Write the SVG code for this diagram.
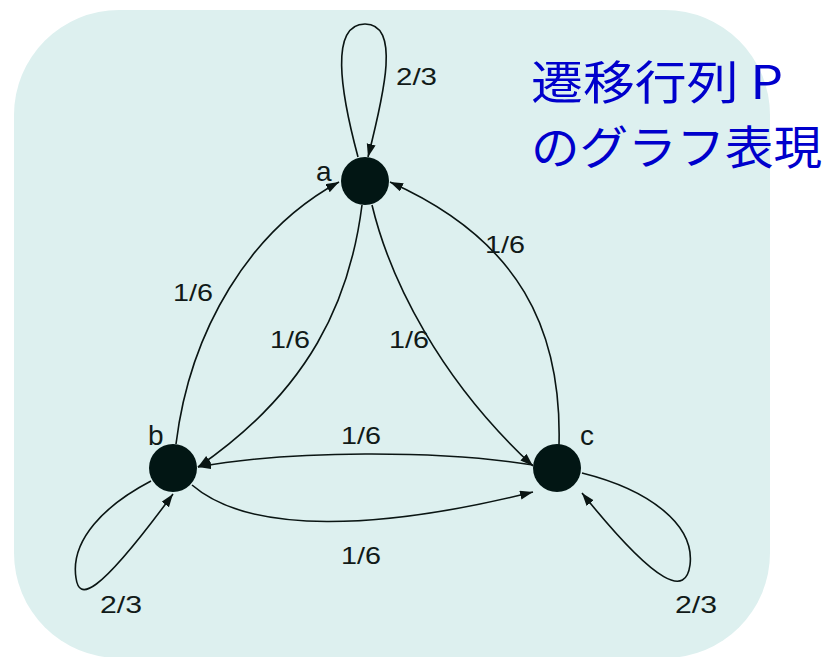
<svg xmlns="http://www.w3.org/2000/svg" width="825" height="657" viewBox="0 0 825 657">
<style>
.edge{fill:none;stroke:#0a1513;stroke-width:1.6}
.node{fill:#021614}
.lbl{font-family:"Liberation Sans",Arial,sans-serif;font-size:24px;fill:#111a18}
.nlbl{font-family:"Liberation Sans",Arial,sans-serif;font-size:28px;fill:#111a18}
.title{font-family:"Noto Sans CJK JP","Liberation Sans",sans-serif;font-size:46px;fill:#0000cc}
</style>
<defs>
<marker id="arr" markerUnits="userSpaceOnUse" markerWidth="14" markerHeight="10" refX="13" refY="4.5" orient="auto">
<path d="M0,0 L13,4.5 L0,9 z" fill="#0a1513"/>
</marker>
</defs>
<rect x="14" y="10" width="756" height="648" rx="105" ry="105" fill="#ddf0ef"/>
<g id="title">
<text class="title" x="531" y="99" textLength="252" lengthAdjust="spacingAndGlyphs">遷移行列 P</text>
<text class="title" x="531" y="164" textLength="291" lengthAdjust="spacingAndGlyphs">のグラフ表現</text>
</g>
<g id="connectors">
<path class="edge" marker-end="url(#arr)" d="M358,157 C340,90 330,24 365,24 C400,24 385,90 368,157"/>
<path class="edge" marker-end="url(#arr)" d="M176,444 C190,330 250,230 339,182"/>
<path class="edge" marker-end="url(#arr)" d="M362,205 C350,300 310,390 198,467"/>
<path class="edge" marker-end="url(#arr)" d="M372,205 C390,280 440,380 533,466"/>
<path class="edge" marker-end="url(#arr)" d="M559,445 C562,330 520,240 390,182"/>
<path class="edge" marker-end="url(#arr)" d="M533,465 C440,450 290,450 198,467"/>
<path class="edge" marker-end="url(#arr)" d="M192,485 C250,535 380,530 533,492"/>
<path class="edge" marker-end="url(#arr)" d="M151,481 C105,505 70,540 76,578 C79,600 95,600 173,494"/>
<path class="edge" marker-end="url(#arr)" d="M582,473 C650,490 695,525 690,565 C686,595 660,590 582,493"/>
</g>
<g id="node-a">
<circle class="node" cx="365" cy="181" r="24"/>
<text class="nlbl" x="316" y="181">a</text>
</g>
<g id="node-b">
<circle class="node" cx="173" cy="468" r="24"/>
<text class="nlbl" x="148" y="445">b</text>
</g>
<g id="node-c">
<circle class="node" cx="557" cy="468" r="24"/>
<text class="nlbl" x="580" y="445">c</text>
</g>
<g id="edge-labels">
<text class="lbl" x="396" y="85" textLength="41" lengthAdjust="spacingAndGlyphs">2/3</text>
<text class="lbl" x="173" y="301" textLength="40" lengthAdjust="spacingAndGlyphs">1/6</text>
<text class="lbl" x="270" y="348" textLength="40" lengthAdjust="spacingAndGlyphs">1/6</text>
<text class="lbl" x="389" y="348" textLength="40" lengthAdjust="spacingAndGlyphs">1/6</text>
<text class="lbl" x="485" y="253" textLength="40" lengthAdjust="spacingAndGlyphs">1/6</text>
<text class="lbl" x="341" y="444" textLength="40" lengthAdjust="spacingAndGlyphs">1/6</text>
<text class="lbl" x="341" y="564" textLength="40" lengthAdjust="spacingAndGlyphs">1/6</text>
<text class="lbl" x="100" y="613" textLength="42" lengthAdjust="spacingAndGlyphs">2/3</text>
<text class="lbl" x="675" y="613" textLength="42" lengthAdjust="spacingAndGlyphs">2/3</text>
</g>
</svg>
